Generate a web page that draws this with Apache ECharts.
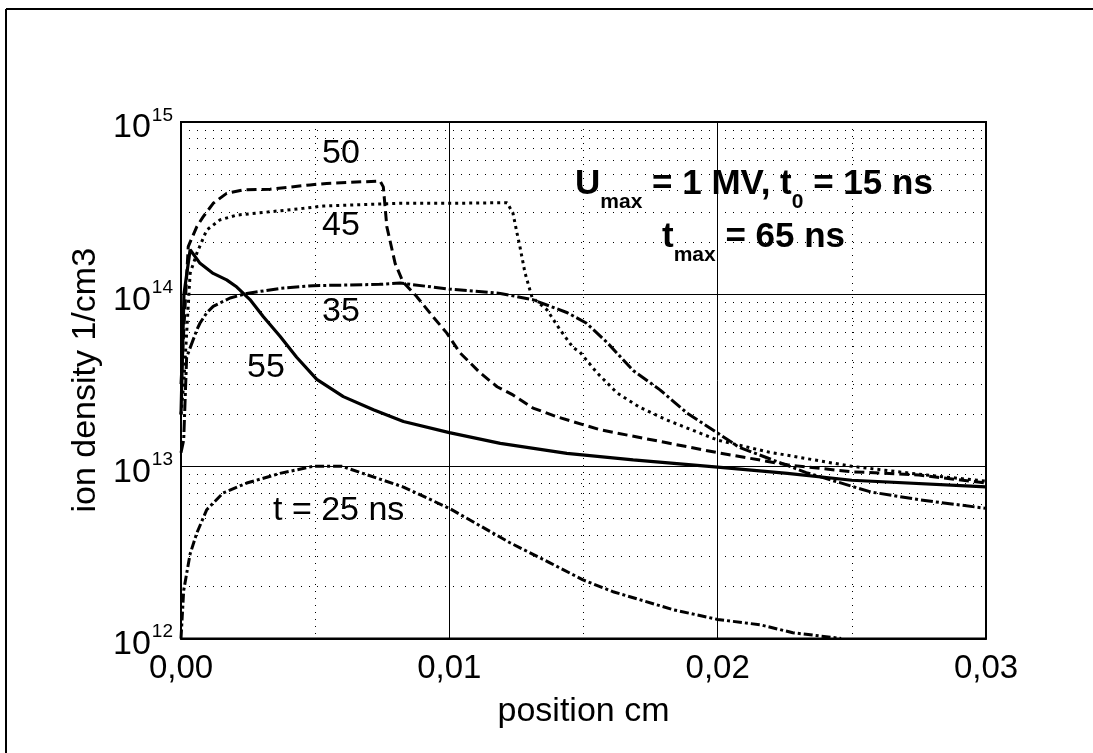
<!DOCTYPE html>
<html>
<head>
<meta charset="utf-8">
<script src="https://cdn.jsdelivr.net/npm/echarts@6/dist/echarts.min.js"></script>
<style>
  html, body { margin: 0; padding: 0; background: #fff; }
  #chart { width: 1093px; height: 753px; }
</style>
</head>
<body>
<div id="chart"></div>
<script>
// ---- data (position in cm, ion density in 1/cm3) ----
const pos25  = [0, 0.0001, 0.00034, 0.00059, 0.00096, 0.00157, 0.00245, 0.00369, 0.00492, 0.0060, 0.00827, 0.0100, 0.01226, 0.01375, 0.01498, 0.0161, 0.01834, 0.0200, 0.0216, 0.0228, 0.0246];
const dens25 = [1.0e12, 1.9e12, 3.1e12, 4.1e12, 5.6e12, 7.0e12, 8.0e12, 9.1e12, 1.0e13, 1.0e13, 7.6e12, 5.7e12, 3.6e12, 2.75e12, 2.19e12, 1.87e12, 1.47e12, 1.29e12, 1.2e12, 1.08e12, 1.0e12];

const pos35  = [0, 0.0001, 0.00021, 0.00059, 0.00071, 0.00096, 0.0012, 0.00183, 0.00245, 0.00369, 0.00492, 0.0074, 0.00816, 0.0100, 0.0119, 0.0131, 0.0144, 0.0151, 0.0159, 0.01685, 0.01785, 0.01886, 0.0200, 0.0208, 0.0233, 0.0257, 0.0275, 0.0300];
const dens35 = [1.2e13, 1.42e13, 4.3e13, 6.2e13, 6.8e13, 7.8e13, 8.5e13, 9.5e13, 1.01e14, 1.08e14, 1.12e14, 1.14e14, 1.16e14, 1.07e14, 1.01e14, 9.3e13, 7.8e13, 6.8e13, 5.2e13, 3.6e13, 2.78e13, 2.04e13, 1.56e13, 1.29e13, 9.2e12, 7.1e12, 6.4e12, 5.7e12];

const pos45  = [0, 0.0001, 0.00034, 0.00059, 0.00096, 0.00145, 0.00208, 0.00332, 0.00455, 0.0053, 0.00816, 0.0100, 0.01215, 0.01237, 0.01252, 0.01263, 0.01282, 0.01308, 0.01364, 0.01413, 0.01461, 0.01487, 0.0155, 0.01625, 0.0171, 0.0181, 0.0200, 0.0219, 0.0250, 0.0275, 0.0300];
const dens45 = [2.0e13, 3.0e13, 1.32e14, 1.73e14, 2.36e14, 2.7e14, 2.88e14, 3.01e14, 3.15e14, 3.25e14, 3.37e14, 3.37e14, 3.4e14, 2.96e14, 2.27e14, 1.89e14, 1.33e14, 9.6e13, 8.1e13, 6.2e13, 4.9e13, 4.6e13, 3.5e13, 2.67e13, 2.2e13, 1.86e13, 1.42e13, 1.21e13, 1.0e13, 9.0e12, 8.2e12];

const pos50  = [0, 0.0001, 0.00027, 0.00059, 0.00083, 0.0012, 0.0017, 0.00232, 0.00332, 0.00481, 0.00543, 0.00742, 0.00754, 0.00767, 0.00798, 0.00827, 0.00878, 0.00939, 0.0099, 0.0104, 0.01077, 0.01114, 0.01178, 0.01237, 0.01312, 0.01401, 0.01562, 0.01811, 0.0200, 0.0226, 0.0250, 0.0275, 0.0300];
const dens50 = [3.0e13, 6.0e13, 1.89e14, 2.47e14, 2.82e14, 3.37e14, 3.85e14, 4.03e14, 4.07e14, 4.31e14, 4.4e14, 4.54e14, 4.2e14, 2.47e14, 1.51e14, 1.18e14, 9.7e13, 7.4e13, 5.96e13, 4.56e13, 4.0e13, 3.5e13, 2.9e13, 2.6e13, 2.18e13, 1.94e13, 1.63e13, 1.37e13, 1.2e13, 1.02e13, 9.3e12, 8.9e12, 8.0e12];

const pos55  = [0, 0.00011, 0.00034, 0.0004, 0.00071, 0.0012, 0.0017, 0.00208, 0.00257, 0.00307, 0.00369, 0.00431, 0.00506, 0.00605, 0.00717, 0.00829, 0.0100, 0.0119, 0.01438, 0.01685, 0.0200, 0.0226, 0.0250, 0.0300];
const dens55 = [2.0e13, 1.0e14, 1.81e14, 1.81e14, 1.51e14, 1.32e14, 1.21e14, 1.10e14, 9.3e13, 7.4e13, 5.7e13, 4.3e13, 3.2e13, 2.54e13, 2.13e13, 1.82e13, 1.57e13, 1.36e13, 1.19e13, 1.09e13, 9.9e12, 9.1e12, 8.3e12, 7.6e12];

const minorDecadeValues = [2,3,4,5,6,7,8,9];
const decades = [1e12, 1e13, 1e14];
const curveLabels = ['t = 25 ns', '35', '45', '50', '55'];
const xTitle = 'position cm';
const yTitle = 'ion density 1/cm3';

// ---- build ----
const FONT = '"Liberation Sans", Arial, Helvetica, sans-serif';
function zip(xs, ys) { return xs.map((x, i) => [x, ys[i]]); }
const minorLines = [];
decades.forEach(d => minorDecadeValues.forEach(m => minorLines.push({ yAxis: m * d })));

function lineSeries(name, xs, ys, type, width) {
  return {
    name: name, type: 'line', data: zip(xs, ys), symbol: 'none', smooth: false,
    lineStyle: { color: '#000', width: width, type: type }, z: 5, silent: true
  };
}

const series = [
  lineSeries('25', pos25, dens25, [9, 3, 3, 3], 3),
  lineSeries('35', pos35, dens35, [12, 3, 3, 3], 3),
  lineSeries('45', pos45, dens45, [3, 4], 3),
  lineSeries('50', pos50, dens50, [10, 5], 3),
  lineSeries('55', pos55, dens55, 'solid', 3.2)
];
series[0].markLine = {
  silent: true, symbol: 'none', label: { show: false },
  lineStyle: { color: '#000', width: 1, type: [1, 7] },
  data: minorLines, z: 1, animation: false
};

const richSup = {
  b: { fontSize: 35, fontWeight: 'bold', lineHeight: 35, verticalAlign: 'top', fontFamily: FONT, fill: '#000' },
  s: { fontSize: 21, fontWeight: 'bold', lineHeight: 21, verticalAlign: 'top', padding: [25, 0, 0, 0], fontFamily: FONT, fill: '#000' }
};

const chart = echarts.init(document.getElementById('chart'), null, { renderer: 'canvas' });
const option = {
  animation: false,
  backgroundColor: '#fff',
  textStyle: { fontFamily: FONT },
  grid: { left: 181, right: 107, top: 122, bottom: 114.5, show: true, borderColor: '#000', borderWidth: 2, backgroundColor: 'transparent', z: 10 },
  xAxis: {
    type: 'value', min: 0, max: 0.03, interval: 0.01,
    name: xTitle, nameLocation: 'middle', nameGap: 56,
    nameTextStyle: { fontSize: 34, color: '#000', fontFamily: FONT },
    axisLine: { show: true, lineStyle: { color: '#000', width: 2 } },
    axisTick: { show: false },
    axisLabel: { fontSize: 33, color: '#000', margin: 14, fontFamily: FONT,
      formatter: v => v.toFixed(2).replace('.', ',') },
    splitLine: { show: true, lineStyle: { color: '#000', width: 1 } },
    minorTick: { show: false, splitNumber: 2 },
    minorSplitLine: { show: true, lineStyle: { color: '#000', width: 1, type: [1, 6] } }
  },
  yAxis: {
    type: 'log', logBase: 10, min: 1e12, max: 1e15,
    name: yTitle, nameLocation: 'middle', nameGap: 77, nameRotate: 90,
    nameTextStyle: { fontSize: 34, color: '#000', fontFamily: FONT },
    axisLine: { show: true, lineStyle: { color: '#000', width: 2 } },
    axisTick: { show: false },
    axisLabel: {
      margin: 8, color: '#000', fontFamily: FONT, padding: [12, 0, 0, 0],
      formatter: v => '{b|10}{s|' + Math.round(Math.log10(v)) + '}',
      rich: {
        b: { fontSize: 34, lineHeight: 34, verticalAlign: 'bottom', fontFamily: FONT, color: '#000' },
        s: { fontSize: 19, lineHeight: 19, verticalAlign: 'bottom', padding: [0, 0, 20, 1], fontFamily: FONT, color: '#000' }
      }
    },
    splitLine: { show: true, lineStyle: { color: '#000', width: 1 } }
  },
  series: series,
  graphic: [
    { type: 'line', shape: { x1: 6, y1: 9, x2: 6, y2: 753 }, style: { stroke: '#000', lineWidth: 2 } },
    { type: 'line', shape: { x1: 6, y1: 9, x2: 1093, y2: 9 }, style: { stroke: '#000', lineWidth: 2 } },
    { type: 'text', left: 322, top: 137, z: 20, style: { text: curveLabels[3], font: '34px ' + FONT, fill: '#000' } },
    { type: 'text', left: 322, top: 209, z: 20, style: { text: curveLabels[2], font: '34px ' + FONT, fill: '#000' } },
    { type: 'text', left: 322, top: 295, z: 20, style: { text: curveLabels[1], font: '34px ' + FONT, fill: '#000' } },
    { type: 'text', left: 247, top: 351, z: 20, style: { text: curveLabels[4], font: '34px ' + FONT, fill: '#000' } },
    { type: 'text', left: 273, top: 494, z: 20, style: { text: curveLabels[0], font: '34px ' + FONT, fill: '#000' } },
    { type: 'text', left: 575, top: 167, z: 20, style: {
      text: '{b|U}{s|max}{b| = 1 MV, t}{s|0}{b| = 15 ns}', rich: richSup } },
    { type: 'text', left: 662, top: 220, z: 20, style: {
      text: '{b|t}{s|max}{b| = 65 ns}', rich: richSup } }
  ]
};
chart.setOption(option);
</script>
</body>
</html>
